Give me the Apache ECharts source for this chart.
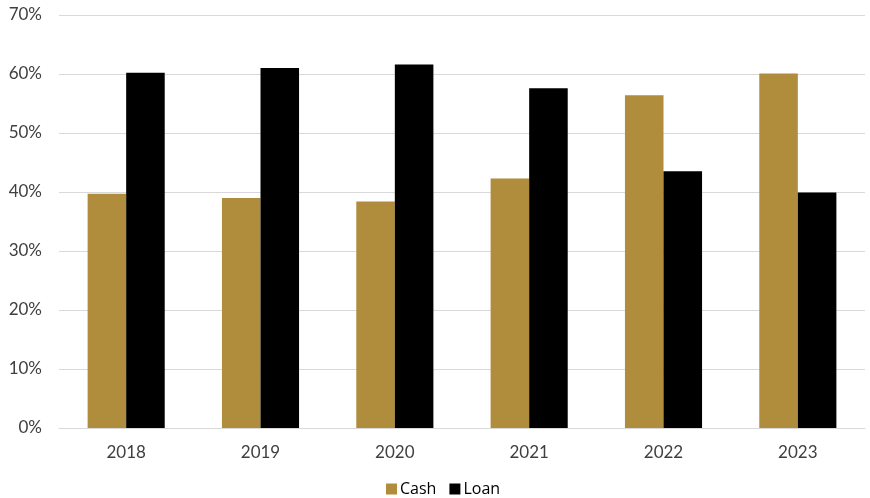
<!DOCTYPE html>
<html><head><meta charset="utf-8">
<script src="https://cdn.jsdelivr.net/npm/echarts@6/dist/echarts.min.js"></script>
<style>html,body{margin:0;padding:0;background:#fff}#c{width:870px;height:498px}</style>
</head><body><div id="c"></div>
<script>
const categories = ['2018','2019','2020','2021','2022','2023'];
const cashValues = [39.7, 39.0, 38.4, 42.3, 56.4, 60.1];
const loanValues = [60.2, 61.0, 61.6, 57.6, 43.5, 39.9];
const yTicks = [0,10,20,30,40,50,60,70];

const chart = echarts.init(document.getElementById('c'), null, {renderer:'canvas'});
chart.setOption({
  animation:false,
  grid:{left:59,right:5,top:15,bottom:70,containLabel:false},
  legend:{
    top:481,left:386,padding:0,itemWidth:11,itemHeight:11,itemGap:13,
    icon:'rect',
    textStyle:{fontFamily:'Open Sans',fontSize:16,color:'#000',padding:[0,0,0,-2]},
    data:['Cash','Loan']
  },
  xAxis:{
    type:'category',data:categories,
    axisLine:{show:true,lineStyle:{color:'#d9d9d9',width:1}},
    axisTick:{show:false},
    axisLabel:{fontFamily:'Lato',fontSize:17,color:'#404040',margin:16}
  },
  yAxis:{
    type:'value',min:0,max:70,interval:10,
    axisLine:{show:false},axisTick:{show:false},
    splitLine:{lineStyle:{color:'#d9d9d9',width:1}},
    axisLabel:{fontFamily:'Lato',fontSize:17,color:'#404040',margin:17,
      formatter:v=>yTicks.includes(v)?v+'%':''}
  },
  series:[
    {name:'Cash',type:'bar',data:cashValues,barWidth:'28.7%',barGap:'0%',
     itemStyle:{color:'#B08D3C'}},
    {name:'Loan',type:'bar',data:loanValues,barWidth:'28.7%',barGap:'0%',
     itemStyle:{color:'#000000'}}
  ]
});
</script></body></html>
